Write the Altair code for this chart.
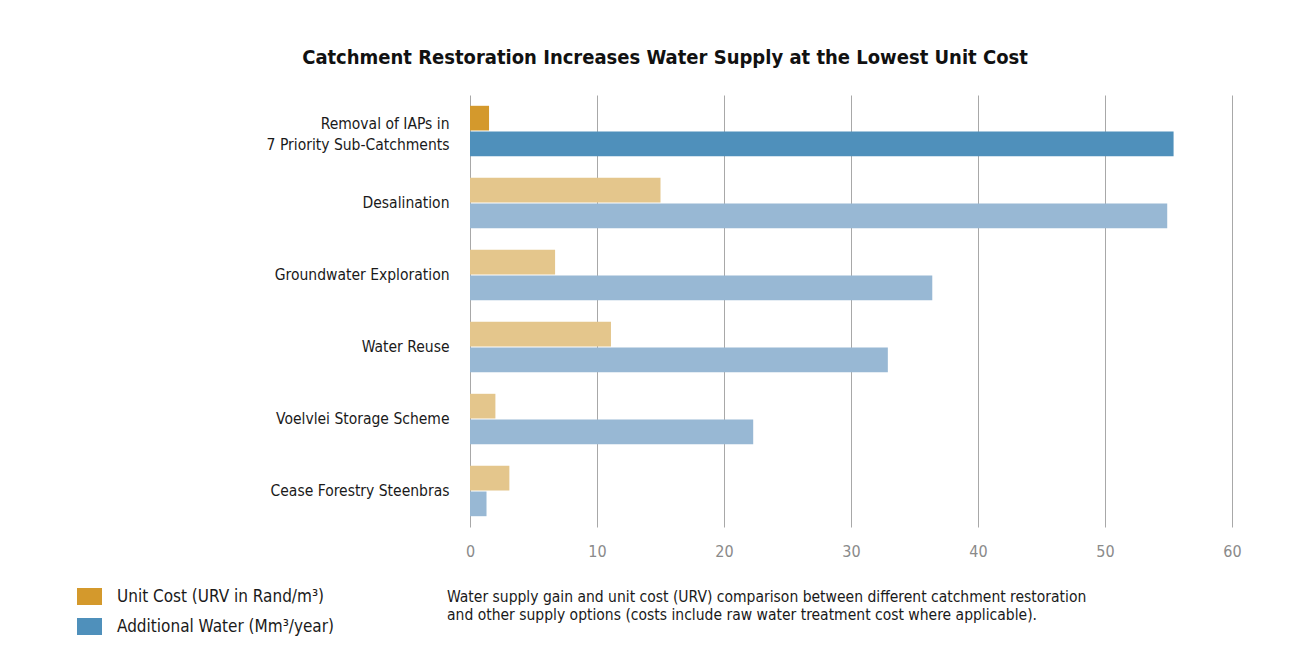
import altair as alt
import pandas as pd

categories = [
    "Removal of IAPs in|7 Priority Sub-Catchments",
    "Desalination",
    "Groundwater Exploration",
    "Water Reuse",
    "Voelvlei Storage Scheme",
    "Cease Forestry Steenbras",
]
unit_cost = [1.5, 15.0, 6.7, 11.1, 2.0, 3.1]
additional_water = [55.4, 54.9, 36.4, 32.9, 22.3, 1.3]
highlight = [True, False, False, False, False, False]

COST = "Unit Cost (URV in Rand/m³)"
WATER = "Additional Water (Mm³/year)"

rows = []
for c, u, w, h in zip(categories, unit_cost, additional_water, highlight):
    rows.append({"cat": c, "series": "a_cost", "value": u,
                 "key": COST if h else "Unit Cost (other)"})
    rows.append({"cat": c, "series": "b_water", "value": w,
                 "key": WATER if h else "Additional Water (other)"})
df = pd.DataFrame(rows)

FONT = "'DejaVu Sans Condensed', 'Roboto', sans-serif"

bars = alt.Chart(df).mark_bar().encode(
    y=alt.Y("cat:N", sort=categories,
            scale=alt.Scale(paddingInner=0.3, paddingOuter=0.15),
            axis=alt.Axis(title=None, labelExpr="split(datum.label, '|')",
                          domain=False, ticks=False, labelPadding=21,
                          labelFontSize=15.5, labelColor="#1a1a1a", labelFont=FONT,
                          labelLineHeight=21, labelLimit=400,
                          labelOffset=alt.condition("indexof(datum.value, '|') >= 0",
                                                    alt.value(-7), alt.value(0)))),
    yOffset=alt.YOffset("series:N", scale=alt.Scale(paddingInner=0.04)),
    x=alt.X("value:Q", scale=alt.Scale(domain=[0, 60], nice=False),
            axis=alt.Axis(title=None, values=[0, 10, 20, 30, 40, 50, 60],
                          domain=False, ticks=False, grid=True,
                          gridColor="#a8a8a8", gridWidth=1, labelFlush=False,
                          labelFontSize=16, labelColor="#8a8a8a", labelFont=FONT,
                          labelPadding=16)),
    color=alt.Color("key:N",
                    scale=alt.Scale(domain=[COST, WATER, "Unit Cost (other)", "Additional Water (other)"],
                                    range=["#d4992c", "#4f90bb", "#e4c68c", "#98b8d4"]),
                    legend=alt.Legend(values=[COST, WATER], title=None, orient="none",
                                      legendX=-393, legendY=489,
                                      symbolType="M-1,-0.68H1V0.68H-1Z",
                                      symbolSize=625, symbolStrokeWidth=0, symbolOpacity=1,
                                      labelFontSize=17, labelFont=FONT, labelColor="#1a1a1a",
                                      rowPadding=9, labelOffset=15, labelLimit=400)),
)

caption = alt.Chart(pd.DataFrame({"t": ["Water supply gain and unit cost (URV) comparison between different catchment restoration\nand other supply options (costs include raw water treatment cost where applicable)."]})).mark_text(
    align="left", baseline="top", font=FONT, fontSize=15.5, color="#1a1a1a",
    lineBreak="\n", lineHeight=18
).encode(x=alt.value(-23), y=alt.value(495), text="t:N")

chart = alt.layer(bars, caption).properties(
    width=762, height=432,
    title=alt.TitleParams(
        "Catchment Restoration Increases Water Supply at the Lowest Unit Cost",
        font=FONT, fontSize=20, fontWeight="bold", color="#111111",
        anchor="middle", dx=-186, offset=27),
    autosize=alt.AutoSizeParams(type="none"),
    padding={"left": 462, "top": 87, "right": 76, "bottom": 127},
    background="white",
).configure_view(stroke=None)

chart.save("out.html", embed_options={"renderer": "svg", "actions": False})
